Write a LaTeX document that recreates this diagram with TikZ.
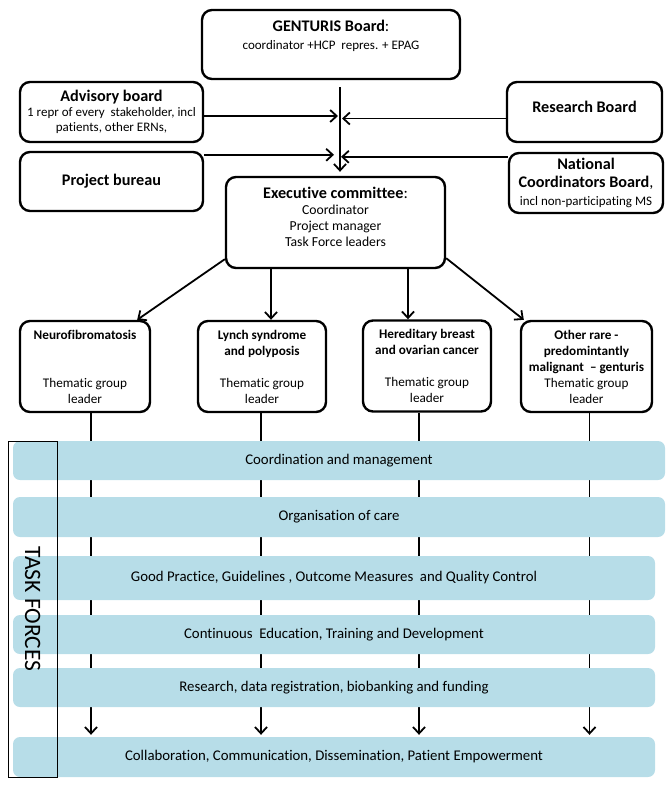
\documentclass[tikz,border=0pt]{standalone}
\usepackage{fontspec}
\setmainfont{Carlito}[Ligatures=NoCommon]
\usetikzlibrary{arrows.meta,backgrounds,calc}
\definecolor{bandblue}{HTML}{B7DDE8}
\newcommand{\fsT}{\fontsize{16.2}{18}\selectfont}
\newcommand{\fsS}{\fontsize{13}{15}\selectfont}
\newcommand{\fsM}{\fontsize{13.2}{16}\selectfont}
\newcommand{\fsE}{\fontsize{13.7}{16}\selectfont}
\newcommand{\fsB}{\fontsize{14.8}{17}\selectfont}
\begin{document}
\begin{tikzpicture}[x=1pt,y=-1pt,
 box/.style={draw, line width=2.4pt, rounded corners=10pt, inner sep=0pt, align=center},
 txt/.style={inner sep=0pt, align=center},
 band/.style={fill=bandblue, rounded corners=7pt, inner sep=0pt, font=\fsB},
 conn/.style={line width=1.8pt, -{Straight Barb[length=6.5pt,width=12pt]}},
]
\useasboundingbox (0,0) rectangle (671,787);
% top boxes
\node[box, minimum width=258pt, minimum height=69pt] (gen) at (331,44.5) {};
\node[txt, font=\fsS] (gentxt) at ([yshift=8.5pt]gen.center) {{\fsT\bfseries GENTURIS Board}{\fsT:}\\[3pt]coordinator +HCP\ \ repres. + EPAG};
\node[box, minimum width=183pt, minimum height=60pt, font=\fsS] (adv) at (111.5,112) {{\fsT\bfseries Advisory board}\\1 repr of every\ \ stakeholder, incl\\patients, other\ ERNs,};
\node[box, minimum width=155pt, minimum height=60pt, font=\fsT\bfseries] (res) at (584.5,112) {Research Board\\[-7pt]\mbox{}};
\node[box, minimum width=183pt, minimum height=59pt, font=\fsT\bfseries] (pb) at (111.5,181.5) {Project bureau};
\node[box, minimum width=154pt, minimum height=60pt, font=\fsT] (nat) at (586,183) {\textbf{National}\\\textbf{Coordinators Board},\\{\fsS incl non-participating MS}};
\node[box, minimum width=219pt, minimum height=91pt] (exec) at (335.5,222.5) {};
\node[txt, font=\fsE] (exectxt) at ([yshift=5.5pt]exec.center) {{\fsT\bfseries Executive committee}{\fsT:}\\Coordinator\\Project manager\\Task Force leaders};
% thematic groups
\node[box, minimum width=130pt, minimum height=91pt, font=\fsM] (t1) at (85,366.5) {\textbf{Neurofibromatosis}\\\mbox{}\\\mbox{}\\Thematic group\\leader};
\node[box, minimum width=128pt, minimum height=91pt, font=\fsM] (t2) at (262,366.5) {\textbf{Lynch syndrome}\\\textbf{and polyposis}\\\mbox{}\\Thematic group\\leader};
\node[box, minimum width=128pt, minimum height=91pt, font=\fsM] (t3) at (427,366) {\textbf{Hereditary breast}\\\textbf{and ovarian cancer}\\\mbox{}\\Thematic group\\leader};
\node[box, minimum width=131pt, minimum height=91pt, font=\fsM] (t4) at (586.5,366.5) {\textbf{Other rare -}\\\textbf{predomintantly}\\\textbf{malignant\ \ – genturis}\\Thematic group\\leader};
% bands
\node[band, minimum width=652pt, minimum height=39pt] (b1) at (339,460.5) {Coordination and management};
\node[band, minimum width=652pt, minimum height=40pt] (b2) at (339,517) {Organisation of care};
\node[band, minimum width=642pt, minimum height=44pt] (b3) at (334,578) {Good Practice, Guidelines , Outcome Measures\ \ and Quality Control};
\node[band, minimum width=642pt, minimum height=39pt] (b4) at (334,634.5) {Continuous\ \ Education, Training and Development};
\node[band, minimum width=642pt, minimum height=39pt] (b5) at (334,687.5) {Research, data registration, biobanking and funding};
\node[band, minimum width=642pt, minimum height=40pt] (b6) at (334,757) {Collaboration, Communication, Dissemination, Patient Empowerment};
% task forces frame
\node[draw, line width=0.9pt, rotate=-90, minimum width=336pt, minimum height=48.5pt, inner sep=0pt, font=\fontsize{23.5}{25}\selectfont] (tf) at (32.75,609) {TASK FORCES};
% central connectors
\coordinate (vtop) at (340,87);
\draw[conn, shorten >=4pt] (vtop) -- (vtop |- exec.north);
\coordinate (a1) at ([yshift=-4pt]adv.east);
\draw[conn, shorten >=2pt] (a1) -- (a1 -| vtop);
\coordinate (r1) at ([yshift=-6.5pt]res.west);
\draw[conn, shorten >=2pt] (r1) -- (r1 -| vtop);
\coordinate (p1) at ([yshift=-4pt]pb.north east);
\draw[conn, shorten >=6pt] (p1) -- (p1 -| vtop);
\coordinate (n1) at ([yshift=-5pt]nat.north west);
\draw[conn, shorten >=1pt] (n1) -- (n1 -| vtop);
% exec to thematic
\draw[conn] ([yshift=10pt]exec.south west) -- ([xshift=-14pt]t1.north east);
\coordinate (x2) at ([xshift=9pt]t2.north);
\draw[conn] (x2 |- exec.south) -- (x2);
\coordinate (x3) at ([xshift=-19pt]t3.north);
\draw[conn] (x3 |- exec.south) -- (x3);
\draw[conn] ([yshift=11pt]exec.south east) -- ([xshift=4pt]t4.north west);
% thematic lines through task forces
\begin{scope}[on background layer]
\foreach \t/\dx in {t1/6, t2/-1, t3/-8, t4/3}
  \draw[conn, shorten >=2pt] ([xshift=\dx pt]\t.south) -- ([xshift=\dx pt]\t.south |- b6.north);
\end{scope}
\end{tikzpicture}
\end{document}
